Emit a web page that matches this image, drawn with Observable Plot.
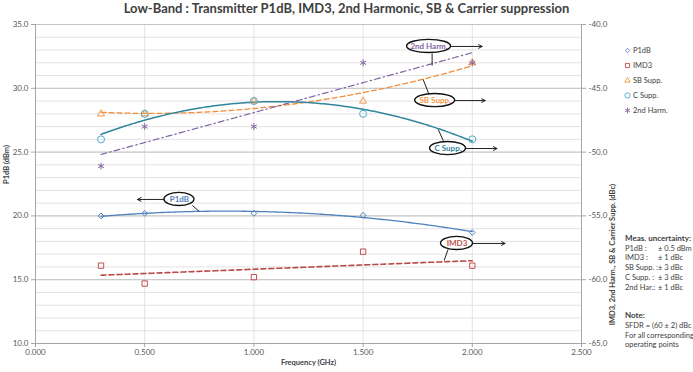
<!DOCTYPE html>
<html><head><meta charset="utf-8">
<script src="https://cdn.jsdelivr.net/npm/d3@7"></script>
<script src="https://cdn.jsdelivr.net/npm/@observablehq/plot@0.6"></script>
<style>
body{margin:0;background:#fff;font-family:Lato,"Open Sans",sans-serif;}
#wrap{position:relative;width:693px;height:372px;overflow:hidden;background:#fff;}
#title{height:16px;line-height:16px;text-align:center;font-weight:bold;font-size:13px;color:#404040;white-space:nowrap;}
#legend{position:absolute;left:624px;top:43px;font-size:7.5px;color:#404040;}
#legend .row{height:15px;line-height:15px;display:flex;align-items:center;white-space:nowrap;}
#legend svg{margin-right:2px;}
#notes{position:absolute;left:625px;top:234px;font-size:7.5px;color:#404040;line-height:9.7px;white-space:nowrap;}
#notes .b{font-weight:bold;font-size:8px;}
#notes .c{display:inline-block;width:33px;}
</style></head>
<body><div id="wrap"><div id="title">Low-Band : Transmitter P1dB, IMD3, 2nd Harmonic, SB &amp; Carrier suppression</div><div id="chart"></div><div id="legend"></div><div id="notes"></div></div>
<script>
// ---- data ----
const freq = [0.3, 0.5, 1.0, 1.5, 2.0];          // GHz
const p1dB = [20.0, 20.2, 20.2, 20.05, 18.7];     // dBm (left axis)
const imd3 = [-58.9, -60.3, -59.8, -57.8, -58.9]; // dBc (right axis)
const sbSupp = [-47, -47, -46, -46, -43];         // dBc
const cSupp = [-49, -47, -46, -47, -49];          // dBc
const harm2 = [-51.1, -48, -48, -43, -43];        // dBc
const leftTicks = [10, 15, 20, 25, 30, 35];
const xTicks = [0, 0.5, 1.0, 1.5, 2.0, 2.5];
const rightOffset = 75; // dBc = dBm-axis value - 75
const legendNames = ["P1dB", "IMD3", "SB Supp.", "C Supp.", "2nd Harm."];
const uncertLabels = ["P1dB :", "IMD3 :", "SB Supp. :", "C Supp. :", "2nd Har.:"];
const uncertValues = ["± 0.5 dBm", "± 1 dBc", "± 3 dBc", "± 3 dBc", "± 1 dBc"];
const noteLines = ["SFDR = (60 ± 2) dBc", "For all corresponding", "operating points"];

// callouts: label, ellipse centre, arrow end x, leader start/end (data units, left axis)
const callouts = [
  {label:"2nd Harm.", cx:1.802, cy:33.28, ax:2.045, l1:[1.816,32.73], l2:[1.816,31.79], rx:22},
  {label:"SB Supp.",  cx:1.830, cy:29.04, ax:2.059, l1:[1.802,29.51], l2:[1.775,30.69], rx:20},
  {label:"C Supp.",   cx:1.889, cy:25.28, ax:2.113, l1:[1.871,25.75], l2:[1.844,26.77], rx:18},
  {label:"P1dB",      cx:0.659, cy:21.29, ax:0.467, l1:[0.718,20.82], l2:[0.750,20.35], rx:15},
  {label:"IMD3",      cx:1.930, cy:17.84, ax:2.150, l1:[1.889,17.37], l2:[1.871,16.50], rx:16}
];

// ---- styles ----
const styles = {
  "P1dB":     {color:"#4f81bd", line:"#4f81bd", symbol:"diamond2", r:2.6, dash:null, deg:2, w:1.3},
  "IMD3":     {color:"#c0504d", line:"#b94a47", symbol:"square2", r:3.4, dash:"5,3", deg:1, w:1.6},
  "SB Supp.": {color:"#f79646", line:"#f28e3c", symbol:"triangle2", r:3.4, dash:"5,3", deg:2, w:1.3},
  "C Supp.":  {color:"#4bacc6", line:"#31859c", symbol:"circle", r:3.5, dash:null, deg:2, w:1.5},
  "2nd Harm.":{color:"#8064a2", line:"#8064a2", symbol:"asterisk", r:3.2, dash:"6,3,1.5,3", deg:1, w:1.2}
};
const calloutColors = {"2nd Harm.":"#8064a2","SB Supp.":"#f79646","C Supp.":"#31859c","P1dB":"#4f81bd","IMD3":"#c0504d"};

const seriesLeft = {
  "P1dB": p1dB,
  "IMD3": imd3.map(v => v + rightOffset),
  "SB Supp.": sbSupp.map(v => v + rightOffset),
  "C Supp.": cSupp.map(v => v + rightOffset),
  "2nd Harm.": harm2.map(v => v + rightOffset)
};

// least-squares polynomial trendline (as Excel trendline)
function polyfit(xs, ys, deg) {
  const n = deg + 1;
  const A = Array.from({length:n}, () => new Array(n + 1).fill(0));
  for (let i = 0; i < xs.length; i++) {
    for (let r = 0; r < n; r++) {
      for (let c = 0; c < n; c++) A[r][c] += Math.pow(xs[i], r + c);
      A[r][n] += ys[i] * Math.pow(xs[i], r);
    }
  }
  for (let p = 0; p < n; p++) {
    let m = p;
    for (let r = p + 1; r < n; r++) if (Math.abs(A[r][p]) > Math.abs(A[m][p])) m = r;
    [A[p], A[m]] = [A[m], A[p]];
    for (let r = 0; r < n; r++) {
      if (r === p) continue;
      const f = A[r][p] / A[p][p];
      for (let c = p; c <= n; c++) A[r][c] -= f * A[p][c];
    }
  }
  const coef = A.map((row, i) => row[n] / row[i]);
  return x => coef.reduce((s, c, i) => s + c * Math.pow(x, i), 0);
}

const xsFine = d3.range(0, 171).map(i => freq[0] + (freq[freq.length - 1] - freq[0]) * i / 170);

const marks = [
  Plot.gridY(d3.range(10, 36, 1), {stroke:"#e3e3e3", strokeOpacity:1}),
  Plot.gridX([0.5, 1.0, 1.5, 2.0], {stroke:"#e3e3e3", strokeOpacity:1}),
  Plot.gridY(leftTicks.slice(1), {stroke:"#c3c3c3", strokeOpacity:1}),
  Plot.ruleX([0, 2.5], {stroke:"#a6a6a6"}),
  Plot.ruleY([10], {stroke:"#a6a6a6"}),
  Plot.axisY({anchor:"left", ticks:leftTicks, tickFormat:d => d.toFixed(1), tickSize:4, tickPadding:3, label:null, stroke:"#a6a6a6", fill:"#595959"}),
  Plot.axisY({anchor:"right", ticks:leftTicks, tickFormat:d => (d - rightOffset).toFixed(1), tickSize:4, tickPadding:3, label:null, stroke:"#a6a6a6", fill:"#595959"}),
  Plot.axisX({anchor:"bottom", ticks:xTicks, tickFormat:d => d.toFixed(3), tickSize:4, tickPadding:2, label:null, stroke:"#a6a6a6", fill:"#595959"}),
  Plot.text(["P1dB (dBm)"], {frameAnchor:"left", dx:-29, rotate:-90, fontWeight:"bold", fontSize:7.5, fill:"#404040"}),
  Plot.text(["IMD3, 2nd Harm., SB & Carrier Supp. (dBc)"], {frameAnchor:"right", dx:31, rotate:-90, fontWeight:"bold", fontSize:7.5, fill:"#404040"}),
  Plot.text(["Frequency (GHz)"], {frameAnchor:"bottom", dy:21, fontWeight:"bold", fontSize:7.5, fill:"#404040"})
];

for (const name of legendNames) {
  const s = styles[name];
  const f = polyfit(freq, seriesLeft[name], s.deg);
  const trend = xsFine.map(x => ({x, y:f(x)}));
  marks.push(Plot.line(trend, {x:"x", y:"y", stroke:s.line, strokeWidth:s.w, strokeDasharray:s.dash || undefined, curve:"linear"}));
}
for (const name of legendNames) {
  const s = styles[name];
  const pts = freq.map((x, i) => ({x, y:seriesLeft[name][i]}));
  marks.push(Plot.dot(pts, {x:"x", y:"y", symbol:s.symbol, r:s.r, stroke:s.color, fill:"none", strokeWidth:1}));
}

// callouts
marks.push(Plot.link(callouts, {x1:d => d.l1[0], y1:d => d.l1[1], x2:d => d.l2[0], y2:d => d.l2[1], stroke:"#222", strokeWidth:1}));
marks.push(Plot.arrow(callouts, {x1:"cx", y1:"cy", x2:"ax", y2:"cy", stroke:"#222", strokeWidth:1, headLength:6, headAngle:55, insetStart:d => d.rx}));
marks.push((index, scales) => {
  const g = d3.create("svg:g");
  for (const c of callouts) {
    g.append("ellipse").attr("cx", scales.x(c.cx)).attr("cy", scales.y(c.cy)).attr("rx", c.rx).attr("ry", 6.6)
      .attr("fill", "#fff").attr("stroke", "#111").attr("stroke-width", 1.4);
  }
  return g.node();
});
marks.push(Plot.text(callouts, {x:"cx", y:"cy", text:"label", fontWeight:"bold", fontSize:8, fill:d => calloutColors[d.label]}));

const chart = Plot.plot({
  width:693, height:356,
  marginLeft:35, marginRight:112, marginTop:8, marginBottom:29,
  x:{domain:[0, 2.5]},
  y:{domain:[10, 35]},
  style:{fontFamily:"Lato, 'Open Sans', sans-serif", fontSize:"8px", background:"#fff"},
  marks
});
document.getElementById("chart").appendChild(chart);

// legend
const legend = d3.select("#legend");
const symMap = {"diamond2":d3.symbolDiamond2, "square2":d3.symbolSquare2, "triangle2":d3.symbolTriangle2, "circle":d3.symbolCircle, "asterisk":d3.symbolAsterisk};
for (const name of legendNames) {
  const s = styles[name];
  const row = legend.append("div").attr("class", "row");
  const sv = row.append("svg").attr("width", 7).attr("height", 7);
  const size = name === "P1dB" ? 12 : 22;
  sv.append("path").attr("transform", "translate(3.5,3.5)").attr("d", d3.symbol(symMap[s.symbol], size)())
    .attr("fill", "none").attr("stroke", s.color).attr("stroke-width", 0.9);
  row.append("span").text(name);
}
// notes
const notes = d3.select("#notes");
notes.append("div").attr("class", "b").text("Meas. uncertainty:");
uncertLabels.forEach((l, i) => {
  const r = notes.append("div");
  r.append("span").attr("class", "c").text(l);
  r.append("span").text(uncertValues[i]);
});
notes.append("div").html("&nbsp;").style("height", "19px");
notes.append("div").attr("class", "b").text("Note:");
noteLines.forEach(t => notes.append("div").text(t));
</script></body></html>
